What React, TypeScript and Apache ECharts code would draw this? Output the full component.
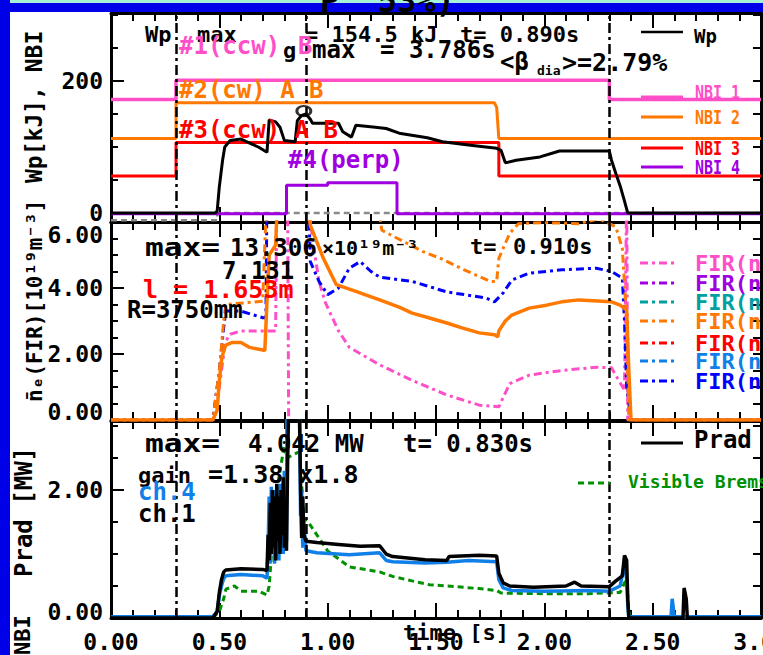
import React, { useEffect, useRef } from "react";
import * as echarts from "echarts";

const PINK = "#ff4fc8";
const ORANGE = "#ff7800";
const RED = "#ff0000";
const PURPLE = "#a000e0";
const TEAL = "#00a0a0";
const LBLUE = "#1080e8";
const BLUE = "#0000ff";
const GREEN = "#009000";
const GRAY = "#8a8a8a";
const FONT = "DejaVu Sans Mono";

// ---------- axis ticks / labels ----------
const xMin = 0;
const xMax = 3;
const topYTicks = [0, 50, 100, 150, 200, 250, 300];
const topYLabels = [0, 200];
const midYTicks = [0, 0.5, 1, 1.5, 2, 2.5, 3, 3.5, 4, 4.5, 5, 5.5, 6];
const midYLabels = [0, 2, 4, 6];
const botYTicks = [0, 0.5, 1, 1.5, 2, 2.5, 3];
const botYLabels = [0, 2];
const markTimes = [0.3, 0.9, 2.3];

// ---------- top panel: Wp [kJ], NBI ----------
const wpData = [[0,0],[0.48,0],[0.49,3],[0.5,40],[0.515,80],[0.525,100],[0.55,110],[0.6,112],[0.64,106],[0.68,100],[0.72,92],[0.73,141],[0.76,138],[0.78,130],[0.8,110],[0.85,108],[0.86,140],[0.88,148],[0.9,150],[0.92,142],[0.93,136],[1.05,136],[1.07,123],[1.11,115],[1.13,133],[1.22,130],[1.27,128],[1.33,121],[1.46,114],[1.53,108],[1.65,103],[1.78,98],[1.8,95],[1.82,76],[1.87,80],[1.98,85],[2.07,94],[2.3,94],[2.31,80],[2.33,60],[2.35,41],[2.37,18],[2.385,0],[3,0]];
const wpMax = [[0.89, 154.5]];
const nbi1Data = [[0,172],[0.3,172],[0.3,201],[2.3,201],[2.3,172],[3,172]];
const nbi2Data = [[0,113],[0.3,113],[0.3,167],[1.77,167],[1.78,160],[1.79,113],[3,113]];
const nbi3Data = [[0,56],[0.3,56],[0.3,107],[1.79,107],[1.79,56],[3,56]];
const nbi4Data = [[0,-1],[0.81,-1],[0.81,42],[1.0,42],[1.0,46],[1.32,46],[1.32,-1],[3,-1]];
const nbi5Data = [[0,-11],[0.49,-11],[0.49,0],[3,0]];

// ---------- middle panel: FIR line density ----------
const firOrangeSolid = [[0,0],[0.47,0],[0.49,0.3],[0.5,1.2],[0.51,1.8],[0.52,2.1],[0.53,2.27],[0.56,2.35],[0.6,2.35],[0.64,2.2],[0.7,2.12],[0.71,2.1],[0.72,3.6],[0.73,5.0],[0.76,5.3],[0.77,7],[0.9,7],[0.92,5.9],[0.98,4.9],[1.04,4.1],[1.13,3.9],[1.24,3.64],[1.33,3.42],[1.39,3.24],[1.47,3.09],[1.55,2.94],[1.62,2.79],[1.7,2.64],[1.77,2.58],[1.785,2.52],[1.79,2.7],[1.82,3.0],[1.85,3.18],[1.93,3.39],[2.01,3.48],[2.08,3.58],[2.16,3.64],[2.31,3.58],[2.35,3.48],[2.38,3.33],[2.39,1.5],[2.4,0],[3,0]];
const firOrangeDot = [[0,0],[0.47,0],[0.5,1.5],[0.52,3.0],[0.53,3.5],[0.7,3.6],[0.72,7],[1.22,7],[1.25,5.75],[1.44,5.1],[1.52,4.9],[1.63,4.55],[1.75,4.2],[1.78,4.2],[1.79,4.9],[1.84,5.65],[1.88,5.95],[2.0,5.98],[2.16,5.95],[2.25,6.1],[2.3,5.95],[2.33,5.85],[2.36,5.2],[2.38,3],[2.39,0],[3,0]];
const firPinkDot = [[0,0],[0.47,0],[0.5,1.0],[0.52,2.0],[0.53,2.4],[0.55,2.6],[0.6,2.7],[0.76,2.7],[0.765,7],[0.815,7],[0.82,0],[0.83,null],[0.9,null],[0.905,7],[0.93,5.5],[0.96,4.2],[0.99,3.55],[1.05,2.7],[1.1,2.2],[1.18,1.9],[1.24,1.67],[1.39,1.2],[1.55,0.76],[1.7,0.45],[1.79,0.4],[1.84,1.1],[1.93,1.36],[2.08,1.5],[2.24,1.6],[2.31,1.58],[2.37,0.9],[2.38,7],[2.385,0],[3,0]];
const firBlueDot = [[0,0],[0.47,0],[0.5,1.5],[0.52,2.8],[0.53,3.3],[0.6,3.3],[0.7,3.1],[0.715,3.1],[0.72,7],[0.91,7],[0.92,4.8],[0.96,4.2],[1.0,3.8],[1.05,4.0],[1.1,4.6],[1.15,4.8],[1.2,4.5],[1.24,4.33],[1.39,4.2],[1.55,3.88],[1.73,3.7],[1.77,3.58],[1.81,3.85],[1.85,4.24],[1.93,4.45],[2.08,4.55],[2.24,4.6],[2.31,4.5],[2.36,4.3],[2.37,3.0],[2.38,1.0],[2.4,0],[3,0]];
const firPurpleDot: number[][] = [];
const firTealDot: number[][] = [];
const firRedDot: number[][] = [];
const firLBlueDot: number[][] = [];

// ---------- bottom panel: Prad [MW] ----------
const pradData = [[0,0],[0.47,0],[0.49,0.1],[0.5,0.4],[0.51,0.6],[0.52,0.72],[0.53,0.75],[0.6,0.77],[0.7,0.76],[0.72,0.74],[0.725,1.3],[0.73,0.9],[0.735,1.8],[0.74,1.0],[0.745,2.0],[0.75,1.1],[0.755,1.9],[0.76,0.9],[0.765,2.1],[0.77,1.2],[0.775,1.9],[0.78,1.0],[0.785,2.0],[0.79,1.3],[0.795,2.2],[0.8,1.1],[0.805,1.8],[0.81,1.05],[0.815,2.4],[0.82,3.3],[0.83,4.04],[0.85,3.6],[0.87,3.2],[0.875,2.0],[0.88,1.25],[0.885,1.9],[0.89,1.3],[0.9,1.2],[0.95,1.18],[1.05,1.15],[1.15,1.12],[1.24,1.13],[1.27,1.0],[1.3,0.96],[1.45,0.91],[1.55,0.9],[1.56,0.96],[1.7,0.98],[1.78,0.97],[1.79,0.7],[1.81,0.55],[1.84,0.5],[1.95,0.48],[2.1,0.5],[2.14,0.56],[2.17,0.5],[2.3,0.49],[2.33,0.58],[2.36,0.66],[2.37,0.98],[2.38,0.9],[2.385,0.3],[2.39,0],[2.64,0],[2.645,0.47],[2.655,0.3],[2.66,0],[3,0]];
const ch4Data = [[0,0.02],[0.47,0.02],[0.49,0.1],[0.5,0.35],[0.51,0.5],[0.52,0.62],[0.53,0.66],[0.6,0.68],[0.7,0.66],[0.72,0.62],[0.725,1.1],[0.73,1.9],[0.735,0.85],[0.74,2.05],[0.745,1.2],[0.75,1.7],[0.755,0.85],[0.76,2.0],[0.765,1.3],[0.77,1.75],[0.775,0.9],[0.78,2.1],[0.785,1.15],[0.79,1.8],[0.795,1.0],[0.8,2.3],[0.805,1.5],[0.81,1.2],[0.812,3.3],[0.87,3.2],[0.875,1.6],[0.88,2.0],[0.885,1.1],[0.89,1.5],[0.9,1.05],[0.95,1.02],[1.1,0.99],[1.24,1.02],[1.27,0.9],[1.3,0.88],[1.45,0.86],[1.55,0.87],[1.65,0.9],[1.78,0.88],[1.79,0.6],[1.81,0.47],[1.85,0.43],[2.0,0.42],[2.2,0.43],[2.3,0.42],[2.35,0.5],[2.37,0.85],[2.38,0.6],[2.385,0.2],[2.39,0.02],[2.585,0.02],[2.59,0.3],[2.6,0.02],[3,0.02]];
const bremsData = [[0.47,0],[0.5,0.1],[0.52,0.3],[0.53,0.45],[0.57,0.5],[0.6,0.42],[0.68,0.42],[0.72,0.36],[0.73,0.5],[0.76,1.9],[0.77,2.1],[0.8,2.7],[0.81,2.5],[0.87,2.6],[0.88,2.1],[0.89,1.55],[0.91,1.5],[0.93,1.4],[1.0,1.05],[1.1,0.8],[1.24,0.72],[1.3,0.65],[1.39,0.58],[1.47,0.52],[1.55,0.5],[1.7,0.46],[1.78,0.43],[1.8,0.39],[2.0,0.38],[2.2,0.38],[2.35,0.4],[2.37,0.55],[2.38,0.6],[2.39,0.1],[2.4,0]];

const topLegend = [
  { name: "NBI 1", color: PINK },
  { name: "NBI 2", color: ORANGE },
  { name: "NBI 3", color: RED },
  { name: "NBI 4", color: PURPLE },
];
const firLegend = [
  { name: "FIR(n)", color: PINK },
  { name: "FIR(n)", color: PURPLE },
  { name: "FIR(n)", color: TEAL },
  { name: "FIR(n)", color: ORANGE },
  { name: "FIR(n)", color: RED },
  { name: "FIR(n)", color: LBLUE },
  { name: "FIR(n)", color: BLUE },
];

const DASHDOT = [8, 4, 3, 4];

function T(text: string, x: number, y: number, size: number, fill = "#000", extra: any = {}) {
  return {
    type: "text",
    x,
    y,
    z: 100,
    ...extra,
    style: {
      text,
      fill,
      fontFamily: FONT,
      fontWeight: "bold",
      fontSize: size,
      align: "left",
      verticalAlign: "middle",
      ...(extra.style || {}),
    },
  };
}
function L(x1: number, y1: number, x2: number, y2: number, stroke: string, lineWidth = 3, lineDash: any = null) {
  return { type: "line", z: 100, shape: { x1, y1, x2, y2 }, style: { stroke, lineWidth, lineDash } };
}

const labelFont = { color: "#000", fontFamily: FONT, fontWeight: "bold", fontSize: 23 };

function mkX(gridIndex: number, position: string, showLabel: boolean) {
  return {
    type: "value",
    gridIndex,
    position,
    min: xMin,
    max: xMax,
    interval: 0.5,
    axisLine: { show: true, onZero: false, lineStyle: { color: "#000", width: 3 } },
    axisTick: { show: true, inside: true, length: 15, lineStyle: { color: "#000", width: 2 } },
    minorTick: { show: true, splitNumber: 5, length: 8, lineStyle: { color: "#000", width: 2 } },
    splitLine: { show: false },
    minorSplitLine: { show: false },
    axisLabel: showLabel
      ? { show: true, margin: 12, ...labelFont, formatter: (v: number) => v.toFixed(2) }
      : { show: false },
  };
}
function mkYMain(
  gridIndex: number,
  min: number,
  max: number,
  labels: number[],
  decimals: number,
  loVal: number | null,
  loPad: number,
  hiVal: number | null,
  hiPad: number
) {
  return {
    type: "value",
    gridIndex,
    position: "left",
    min,
    max,
    axisLine: { show: true, onZero: false, lineStyle: { color: "#000", width: 3 } },
    axisTick: { show: true, inside: true, length: 13, customValues: labels, lineStyle: { color: "#000", width: 2 } },
    axisLabel: {
      show: true,
      customValues: labels,
      margin: 8,
      ...labelFont,
      formatter: (v: number) => {
        const s = v.toFixed(decimals);
        if (loVal !== null && Math.abs(v - loVal) < 1e-9) return "{lo|" + s + "}";
        if (hiVal !== null && Math.abs(v - hiVal) < 1e-9) return "{hi|" + s + "}";
        return s;
      },
      rich: {
        lo: { ...labelFont, padding: [0, 0, loPad, 0] },
        hi: { ...labelFont, padding: [hiPad, 0, 0, 0] },
      },
    },
    splitLine: { show: false },
  };
}
function mkYMinor(gridIndex: number, min: number, max: number, ticks: number[], position: string, len: number) {
  return {
    type: "value",
    gridIndex,
    position,
    min,
    max,
    axisLine: { show: position === "right", onZero: false, lineStyle: { color: "#000", width: 3 } },
    axisTick: { show: true, inside: true, length: len, customValues: ticks, lineStyle: { color: "#000", width: 2 } },
    axisLabel: { show: false },
    splitLine: { show: false },
  };
}

const markLine = {
  silent: true,
  symbol: ["none", "none"],
  label: { show: false },
  lineStyle: { color: "#000", width: 2.5, type: [10, 4, 3, 4] },
  data: markTimes.map((t) => ({ xAxis: t })),
};

function ln(name: string, data: any[], xi: number, yi: number, color: string, width: number, type: any = "solid", extra: any = {}) {
  return {
    type: "line",
    name,
    data,
    xAxisIndex: xi,
    yAxisIndex: yi,
    showSymbol: false,
    symbol: "none",
    connectNulls: false,
    lineStyle: { color, width, type },
    itemStyle: { color },
    ...extra,
  };
}

export default function App() {
  const ref = useRef<HTMLDivElement>(null);
  useEffect(() => {
    const chart = echarts.init(ref.current!, null, { renderer: "svg" });
    const topMin = -13.6;
    const topMax = 303;
    const gridBase = { left: 111, width: 650, containLabel: false, outerBoundsMode: "none" };
    const option: any = {
      animation: false,
      backgroundColor: "#ffffff",
      grid: [
        { ...gridBase, top: 13, height: 209 },
        { ...gridBase, top: 222, height: 198 },
        { ...gridBase, top: 421, height: 197 },
      ],
      xAxis: [mkX(0, "bottom", false), mkX(0, "top", false), mkX(1, "bottom", false), mkX(1, "top", false), mkX(2, "bottom", true), mkX(2, "top", false)],
      yAxis: [
        mkYMain(0, topMin, topMax, topYLabels, 0, null, 0, null, 0),
        mkYMinor(0, topMin, topMax, topYTicks, "left", 7),
        mkYMinor(0, topMin, topMax, topYTicks, "right", 8),
        mkYMain(1, 0, 6, midYLabels, 2, 0, 16, 6, 26),
        mkYMinor(1, 0, 6, midYTicks, "left", 7),
        mkYMinor(1, 0, 6, midYTicks, "right", 8),
        mkYMain(2, 0, 3.08, botYLabels, 2, 0, 13, null, 0),
        mkYMinor(2, 0, 3.08, botYTicks, "left", 7),
        mkYMinor(2, 0, 3.08, botYTicks, "right", 8),
      ],
      series: [
        ln("NBI 5", nbi5Data, 0, 0, GRAY, 2.5, [6, 4], { markLine }),
        ln("NBI 4", nbi4Data, 0, 0, PURPLE, 3),
        ln("NBI 1", nbi1Data, 0, 0, PINK, 3.5),
        ln("NBI 2", nbi2Data, 0, 0, ORANGE, 3),
        ln("NBI 3", nbi3Data, 0, 0, RED, 3),
        ln("Wp", wpData, 0, 0, "#000", 3),
        {
          type: "scatter",
          name: "Wp max",
          data: wpMax,
          xAxisIndex: 0,
          yAxisIndex: 0,
          symbol: "circle",
          symbolSize: [14, 10],
          itemStyle: { color: "rgba(0,0,0,0)", borderColor: "#000", borderWidth: 2.5 },
        },
        ln("FIR pink", firPinkDot, 2, 3, PINK, 3, DASHDOT, { markLine }),
        ln("FIR purple", firPurpleDot, 2, 3, PURPLE, 3, DASHDOT),
        ln("FIR teal", firTealDot, 2, 3, TEAL, 3, DASHDOT),
        ln("FIR red", firRedDot, 2, 3, RED, 3, DASHDOT),
        ln("FIR lblue", firLBlueDot, 2, 3, LBLUE, 3, DASHDOT),
        ln("FIR blue", firBlueDot, 2, 3, BLUE, 3, DASHDOT),
        ln("FIR orange dot", firOrangeDot, 2, 3, ORANGE, 3, DASHDOT),
        ln("FIR orange", firOrangeSolid, 2, 3, ORANGE, 3.5),
        ln("Visible Brems", bremsData, 4, 6, GREEN, 3, [6, 4], { markLine }),
        ln("ch.4", ch4Data, 4, 6, LBLUE, 3.5),
        ln("Prad", pradData, 4, 6, "#000", 3.5),
      ],
      graphic: [
        { type: "rect", z: 90, shape: { x: 0, y: 0, width: 763, height: 3 }, style: { fill: "#a6f2d6" } },
        { type: "rect", z: 90, shape: { x: 0, y: 3, width: 763, height: 9 }, style: { fill: "#0000e8" } },
        { type: "rect", z: 90, shape: { x: 0, y: 0, width: 10, height: 655 }, style: { fill: "#0000e8" } },
        T("P  53%)", 320, 1, 32),
        // axis names
        T("Wp[kJ], NBI", 34, 183, 23, "#000", { rotation: Math.PI / 2 }),
        T("n\u0304\u2091(FIR)[10\u00b9\u2079m\u207b\u00b3]", 35, 402, 21, "#000", { rotation: Math.PI / 2 }),
        T("Prad [MW]", 24, 577, 24, "#000", { rotation: Math.PI / 2 }),
        T("NBI", 22, 655, 22, "#000", { rotation: Math.PI / 2 }),
        T("time [s]", 403, 632, 22),
        // top panel annotations
        T("Wp", 145, 34, 22),
        T("max", 197, 34, 22),
        T("= 154.5 kJ", 305, 34, 22),
        T("t= 0.890s", 460, 34, 22),
        T("#1(ccw)", 179, 46, 24, PINK),
        T("B", 298, 46, 24, PINK),
        T("g", 283, 50, 22),
        T("max", 312, 50, 24),
        T("= 3.786s", 380, 50, 24),
        T("<\u03b2", 500, 62, 24),
        T("dia", 537, 70, 13),
        T(">=2.79%", 562, 62, 25),
        T("#2(cw) A B", 179, 90, 24, ORANGE),
        T("#3(ccw) A B", 179, 130, 24, RED),
        T("#4(perp)", 288, 160, 24, PURPLE),
        L(641, 32, 683, 32, "#000", 2.5),
        T("Wp", 694, 36, 19),
        ...topLegend.flatMap((it, i) => {
          const ly = [97, 117, 148, 167][i];
          const ty = [92, 117, 148, 167][i];
          return [L(641, ly, 683, ly, it.color, 3), T(it.name, 695, ty, 15, it.color, { scaleY: 1.35 })];
        }),
        // middle panel annotations
        T("max=", 145, 248, 24, "#000", { scaleX: 1.3 }),
        T("13.306", 230, 248, 24),
        T("\u00d710\u00b9\u2079m\u207b\u00b3", 322, 248, 20),
        T("t=", 470, 246, 22),
        T("0.910s", 513, 246, 22),
        T("7.131", 222, 271, 24),
        T("l = 1.653m", 143, 289, 25, RED),
        T("R=3750mm", 127, 310, 24),
        ...firLegend.flatMap((it, i) => {
          const ly = [263, 283, 302, 321, 343, 361, 381][i];
          return [L(640, ly, 678, ly, it.color, 3, DASHDOT), T(it.name, 695, ly, 22, it.color)];
        }),
        // bottom panel annotations
        T("max=", 145, 444, 24, "#000", { scaleX: 1.3 }),
        T("4.042 MW", 248, 444, 24),
        T("t= 0.830s", 403, 444, 24),
        T("gain", 138, 475, 22),
        T("=1.38 x1.8", 208, 474, 25),
        T("ch.4", 138, 492, 24, LBLUE),
        T("ch.1", 138, 514, 24),
        L(641, 443, 683, 443, "#000", 3),
        T("Prad", 694, 440, 24),
        L(578, 483, 610, 483, GREEN, 3, [6, 4]),
        T("Visible Brems", 628, 481, 18, GREEN),
      ],
    };
    chart.setOption(option);
    return () => chart.dispose();
  }, []);
  return (
    <div
      ref={ref}
      style={{ position: "fixed", left: 0, top: 0, width: 763, height: 655, background: "#fff" }}
    />
  );
}
